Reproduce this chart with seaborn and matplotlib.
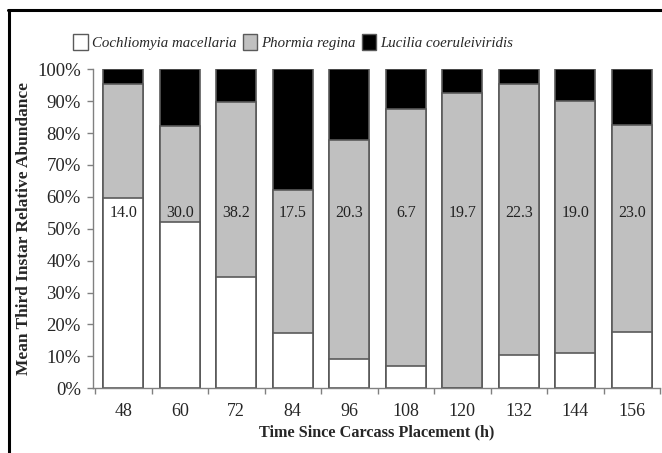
import matplotlib
matplotlib.use("Agg")
import matplotlib.pyplot as plt
from matplotlib.patches import Patch
from matplotlib.lines import Line2D
import seaborn as sns
import pandas as pd
import numpy as np

hours = ["48", "60", "72", "84", "96", "108", "120", "132", "144", "156"]
cochliomyia = [59.6, 52.0, 34.8, 17.4, 9.3, 7.0, 0.0, 10.3, 11.2, 17.6]
phormia = [35.7, 30.1, 54.9, 44.7, 68.4, 80.6, 92.5, 85.2, 78.8, 64.9]
lucilia = [4.7, 17.9, 10.3, 37.9, 22.3, 12.4, 7.5, 4.5, 10.0, 17.5]
n_labels = ["14.0", "30.0", "38.2", "17.5", "20.3", "6.7", "19.7", "22.3", "19.0", "23.0"]
species = ["Cochliomyia macellaria", "Phormia regina", "Lucilia coeruleiviridis"]
colors = ["#FFFFFF", "#C0C0C0", "#000000"]

sns.set_theme(style="white")
plt.rcParams["font.family"] = ["Liberation Serif", "DejaVu Serif"]

df = pd.DataFrame({
    "hour": hours,
    "c": np.array(cochliomyia),
    "p": np.array(phormia),
    "l": np.array(lucilia),
})
df["top_l"] = df["c"] + df["p"] + df["l"]
df["top_p"] = df["c"] + df["p"]
df["top_c"] = df["c"]

fig = plt.figure(figsize=(6.62, 4.53), dpi=100)
ax = fig.add_axes([0.141, 0.143, 0.856, 0.704])

edge = "#5a5a5a"
for col, colr in zip(["top_l", "top_p", "top_c"], [colors[2], colors[1], colors[0]]):
    sns.barplot(data=df, x="hour", y=col, order=hours, color=colr, width=0.71,
                edgecolor=edge, linewidth=1.2, saturation=1, ax=ax)

for i, lab in enumerate(n_labels):
    ax.text(i, 55, lab, ha="center", va="center", fontsize=11.5, color="#222222")

ax.set_ylim(0, 100)
ax.set_xlim(-0.53, 9.5)
ax.set_yticks(np.arange(0, 101, 10))
ax.set_yticklabels([f"{v}%" for v in range(0, 101, 10)], fontsize=13.5)
ax.set_xticks(range(len(hours)))
ax.set_xticklabels(hours, fontsize=13)
ax.tick_params(axis="x", length=0, pad=11)
ax.tick_params(axis="y", length=4, color="#808080", width=1, left=True, pad=5)

# minor ticks between categories on x
ax.set_xticks(np.arange(-0.5, 10, 1), minor=True)
ax.tick_params(axis="x", which="minor", length=4, color="#808080", width=1, bottom=True, direction="out")

for s in ["top", "right"]:
    ax.spines[s].set_visible(False)
for s in ["left", "bottom"]:
    ax.spines[s].set_color("#808080")
    ax.spines[s].set_linewidth(1)

ax.set_xlabel("Time Since Carcass Placement (h)", fontsize=11.7, fontweight="bold", labelpad=3)
ax.set_ylabel("Mean Third Instar Relative Abundance", fontsize=12.5, fontweight="bold", labelpad=4)

handles = [Patch(facecolor=c, edgecolor=edge, linewidth=1.0) for c in colors]
fig.legend(handles, species, loc="center", bbox_to_anchor=(0.443, 0.907), ncol=3,
           frameon=False, handlelength=1.0, handleheight=1.3, handletextpad=0.25,
           columnspacing=0.4, prop={"style": "italic", "size": 10.7})

# outer frame lines
fig.add_artist(Line2D([8 / 662, 1.0], [1 - 10 / 453, 1 - 10 / 453], transform=fig.transFigure,
                      color="black", linewidth=2.2))
fig.add_artist(Line2D([9 / 662, 9 / 662], [0, 1 - 10 / 453], transform=fig.transFigure,
                      color="black", linewidth=2.2))

fig.savefig("out.png", dpi=100)
